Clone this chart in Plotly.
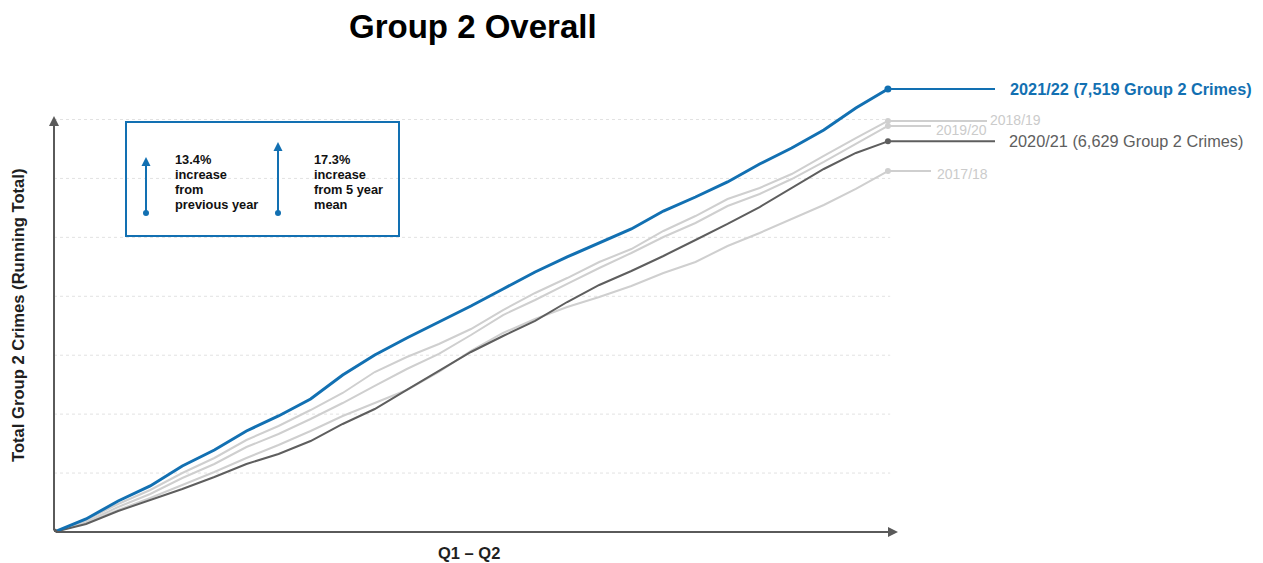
import plotly.graph_objects as go

# Running totals of Group 2 crimes, sampled weekly over Q1-Q2 (day 0 = 1 April)
days = list(range(0, 183, 7))

total_2017_18 = [0, 153, 373, 577, 798, 1018, 1256, 1476, 1714, 1969, 2189, 2410, 2715, 3072,
                 3377, 3615, 3818, 3988, 4175, 4395, 4582, 4853, 5074, 5312, 5549, 5821, 6126]
total_2018_19 = [0, 204, 475, 713, 1001, 1256, 1561, 1799, 2070, 2359, 2715, 2970, 3190, 3445,
                 3767, 4056, 4310, 4582, 4802, 5108, 5362, 5651, 5838, 6075, 6381, 6686, 6975]
total_2019_20 = [0, 170, 424, 645, 916, 1154, 1442, 1663, 1918, 2189, 2478, 2766, 3021, 3343,
                 3682, 3937, 4209, 4480, 4735, 5006, 5244, 5532, 5736, 5990, 6279, 6584, 6890]
total_2020_21 = [0, 136, 356, 543, 730, 933, 1154, 1324, 1544, 1833, 2087, 2410, 2732, 3055,
                 3326, 3581, 3903, 4192, 4429, 4684, 4955, 5227, 5515, 5838, 6160, 6432, 6629]
total_2021_22 = [0, 221, 526, 781, 1120, 1392, 1714, 1969, 2257, 2664, 3004, 3292, 3564, 3835,
                 4124, 4412, 4667, 4904, 5142, 5447, 5685, 5940, 6245, 6516, 6822, 7195, 7519]

grid_values = [1000, 2000, 3000, 4000, 5000, 6000, 7000]

pct_prev_year = "13.4%"
pct_five_year = "17.3%"

BLUE = "#1270b2"
DARK = "#5e5e5e"
LIGHT = "#cfcfcf"
LIGHT_TEXT = "#cbcbcb"
AXIS = "#5a5a5a"
FONT = "Arial, Liberation Sans, sans-serif"

W, H = 1263, 563
L, B = 54, 31                     # plot area: left edge and bottom margin in px
PLOT_W, PLOT_H = W - L, H - B
PX_PER_DAY = 4.582
X_MAX = PLOT_W / PX_PER_DAY
Y_MAX = 9028


def xp(px):
    return (px - L) / PLOT_W


def yp(py):
    return (PLOT_H - py) / PLOT_H


def day_at(px):
    return (px - L) / PX_PER_DAY


series = [
    ("2017/18", total_2017_18, LIGHT, 2),
    ("2018/19", total_2018_19, LIGHT, 2),
    ("2019/20", total_2019_20, LIGHT, 2),
    ("2020/21", total_2020_21, DARK, 2),
    ("2021/22", total_2021_22, BLUE, 3),
]

fig = go.Figure()

for name, vals, color, width in series:
    fig.add_trace(go.Scatter(x=days, y=vals, mode="lines", name=name,
                             line=dict(color=color, width=width), hoverinfo="skip"))
    fig.add_trace(go.Scatter(x=[days[-1]], y=[vals[-1]], mode="markers",
                             marker=dict(color=color, size=6 if width == 2 else 7),
                             hoverinfo="skip"))

# origin point
fig.add_trace(go.Scatter(x=[0], y=[0], mode="markers", marker=dict(color=AXIS, size=7),
                         hoverinfo="skip"))

shapes = []
annotations = []

# dotted guide lines
for g in grid_values:
    shapes.append(dict(type="line", xref="x", yref="y", x0=0, x1=182.5, y0=g, y1=g,
                       line=dict(color="#e2e2e2", width=1, dash="dot"), layer="below"))

# end labels with connectors
labels = [
    (total_2021_22[-1], BLUE, 995, 1008, 0, "<b>2021/22 (7,519 Group 2 Crimes)</b>", 16.3, BLUE),
    (total_2018_19[-1], LIGHT, 987, 988, 1, "2018/19", 14, LIGHT_TEXT),
    (total_2019_20[-1], LIGHT, 931, 934, -4, "2019/20", 14, LIGHT_TEXT),
    (total_2020_21[-1], DARK, 995, 1007, 0, "2020/21 (6,629 Group 2 Crimes)", 16.3, DARK),
    (total_2017_18[-1], LIGHT, 931, 935, -3, "2017/18", 14, LIGHT_TEXT),
]
for val, lcolor, x_end, x_text, dy, text, size, tcolor in labels:
    shapes.append(dict(type="line", xref="x", yref="y", x0=days[-1], x1=day_at(x_end),
                       y0=val, y1=val, line=dict(color=lcolor, width=2)))
    annotations.append(dict(xref="x", yref="y", x=day_at(x_text), y=val, yshift=dy,
                            text=text, showarrow=False, xanchor="left", yanchor="middle",
                            font=dict(family=FONT, size=size, color=tcolor)))

# axis arrows
annotations.append(dict(xref="x", yref="y", axref="x", ayref="y", x=day_at(898), y=0,
                        ax=0, ay=0, text="", showarrow=True, arrowhead=2, arrowsize=1,
                        arrowwidth=2, arrowcolor=AXIS))
annotations.append(dict(xref="x", yref="y", axref="x", ayref="y", x=0, y=7060,
                        ax=0, ay=0, text="", showarrow=True, arrowhead=2, arrowsize=1,
                        arrowwidth=2, arrowcolor=AXIS))

# info box
shapes.append(dict(type="rect", xref="paper", yref="paper", x0=xp(126), x1=xp(399),
                   y0=yp(236), y1=yp(122), line=dict(color=BLUE, width=2)))
for ax_px, top_px in [(146, 157), (278, 142)]:
    annotations.append(dict(xref="paper", yref="paper", x=xp(ax_px), y=yp(top_px),
                            ax=0, ay=213 - top_px, text="", showarrow=True, arrowhead=2,
                            arrowsize=0.9, arrowwidth=2, arrowcolor=BLUE))
    shapes.append(dict(type="circle", xref="paper", yref="paper",
                       x0=xp(ax_px - 3), x1=xp(ax_px + 3), y0=yp(216), y1=yp(210),
                       fillcolor=BLUE, line=dict(color=BLUE, width=0)))

box_text = [
    (173, [pct_prev_year, "increase", "from", "previous year"]),
    (312, [pct_five_year, "increase", "from 5 year", "mean"]),
]
for x_px, lines in box_text:
    for i, line in enumerate(lines):
        annotations.append(dict(xref="paper", yref="paper", x=xp(x_px), y=yp(159 + 15.3 * i),
                                text=f"<b>{line}</b>", showarrow=False, xanchor="left",
                                yanchor="middle",
                                font=dict(family=FONT, size=12.8, color="#111111")))

# titles
annotations.append(dict(xref="paper", yref="paper", x=xp(473), y=yp(26),
                        text="<b>Group 2 Overall</b>", showarrow=False,
                        xanchor="center", yanchor="middle",
                        font=dict(family=FONT, size=33, color="#000000")))
annotations.append(dict(xref="paper", yref="paper", x=xp(18), y=yp(316),
                        text="<b>Total Group 2 Crimes (Running Total)</b>", showarrow=False,
                        textangle=-90, xanchor="center", yanchor="middle",
                        font=dict(family=FONT, size=16.6, color="#1f1f1f")))
annotations.append(dict(xref="paper", yref="paper", x=xp(469), y=yp(553),
                        text="<b>Q1 – Q2</b>", showarrow=False,
                        xanchor="center", yanchor="middle",
                        font=dict(family=FONT, size=16.5, color="#1f1f1f")))

fig.update_layout(
    width=W, height=H,
    margin=dict(l=L, r=0, t=0, b=B, pad=0),
    paper_bgcolor="white", plot_bgcolor="white",
    showlegend=False,
    xaxis=dict(range=[0, X_MAX], visible=False, fixedrange=True),
    yaxis=dict(range=[0, Y_MAX], visible=False, fixedrange=True),
    shapes=shapes,
    annotations=annotations,
)

fig.write_html("out.html")
